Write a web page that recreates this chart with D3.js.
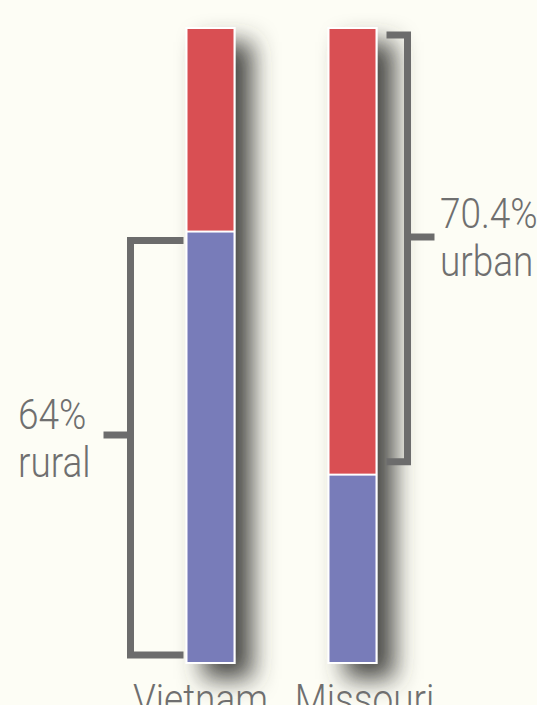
<!DOCTYPE html>
<html>
<head>
<meta charset="utf-8">
<script src="https://cdn.jsdelivr.net/npm/d3@7"></script>
<style>
  html, body { margin: 0; padding: 0; background: #fdfdf5; }
  svg { display: block; }
  .lbl { font-family: Roboto, "Noto Sans", sans-serif; font-weight: 300; fill: #6f6f6f; font-size: 43px; }
</style>
</head>
<body>
<svg id="chart"></svg>
<script>
(function() {
    var width = 537, height = 705

    // share of population per place
    var places = ["Vietnam", "Missouri"]
    var rural = [0.68, 0.296]
    var urban = [0.32, 0.704]
    var calloutNumbers = ["64%", "70.4%"]
    var calloutWords = ["rural", "urban"]

    var data = places.map((p, i) => ({ name: p, rural: rural[i], urban: urban[i] }))

    var svg = d3.select("#chart").attr("width", width).attr("height", height)

    // drop shadow behind the bars
    var defs = svg.append("defs")
    var f = defs.append("filter").attr("id", "shadow")
        .attr("x", "-80%").attr("y", "-10%").attr("width", "320%").attr("height", "130%")
    f.append("feDropShadow")
        .attr("dx", 17).attr("dy", 15).attr("stdDeviation", 12)
        .attr("flood-color", "#3b3b39").attr("flood-opacity", 0.92)

    var x = d3.scalePoint().domain(places).range([210.5, 352.5])
    var y = d3.scaleLinear().domain([0, 1]).range([662, 29])
    var barW = 46

    var color = { rural: "#787bb9", urban: "#d95052" }

    var bars = svg.append("g").selectAll("g")
        .data(data)
        .join("g")
            .attr("filter", "url(#shadow)")

    // white backing so every segment gets a thin white edge
    bars.append("rect")
        .attr("x", d => x(d.name) - barW / 2 - 2)
        .attr("y", y(1) - 2)
        .attr("width", barW + 4)
        .attr("height", y(0) - y(1) + 4)
        .attr("fill", "#ffffff")

    bars.append("rect") // rural, bottom
        .attr("x", d => x(d.name) - barW / 2)
        .attr("y", d => y(d.rural) + 1)
        .attr("width", barW)
        .attr("height", d => y(0) - y(d.rural) - 1)
        .attr("fill", color.rural)

    bars.append("rect") // urban, top
        .attr("x", d => x(d.name) - barW / 2)
        .attr("y", d => y(1))
        .attr("width", barW)
        .attr("height", d => y(d.rural) - y(1) - 1)
        .attr("fill", color.urban)

    // brackets
    var g = svg.append("g").attr("fill", "none").attr("stroke", "#6c6c6c")
        .attr("stroke-width", 7).attr("stroke-linejoin", "miter")

    // Vietnam: rural part, bracket on the left
    var v = data[0]
    var vTop = y(v.rural) + 9, vBot = y(0) - 7
    var vx = x(v.name) - barW / 2 - 57
    var vEnd = x(v.name) - barW / 2 - 4
    var vMid = 435
    g.append("path").attr("d", `M${vEnd},${vTop} H${vx} V${vBot} H${vEnd}`)
    g.append("path").attr("d", `M${vx},${vMid} H${vx - 27}`)

    // Missouri: urban part, bracket on the right
    var m = data[1]
    var mTop = y(1) + 6, mBot = y(m.rural) - 13
    var mx = x(m.name) + barW / 2 + 32
    var mStart = x(m.name) + barW / 2 + 11
    var mMid = 237
    g.append("path").attr("d", `M${mStart},${mTop} H${mx} V${mBot} H${mStart}`)
    g.append("path").attr("d", `M${mx},${mMid} H${mx + 27}`)

    // condensed look: squeeze the text horizontally around its anchor
    var sx = 0.86
    function label(txt, tx, ty, anchor) {
        svg.append("text").attr("class", "lbl")
            .attr("text-anchor", anchor || "start")
            .attr("transform", `translate(${tx},${ty}) scale(${sx},1)`)
            .text(txt)
    }

    label(calloutNumbers[0], 18, 429)
    label(calloutWords[0], 18, 477)
    label(calloutNumbers[1], 440, 228)
    label(calloutWords[1], 440, 276)

    // place names under the bars (cut by the frame)
    data.forEach((d, i) => label(d.name, x(d.name) + (i == 0 ? -10 : 12), 714, "middle"))
})();
</script>
</body>
</html>
